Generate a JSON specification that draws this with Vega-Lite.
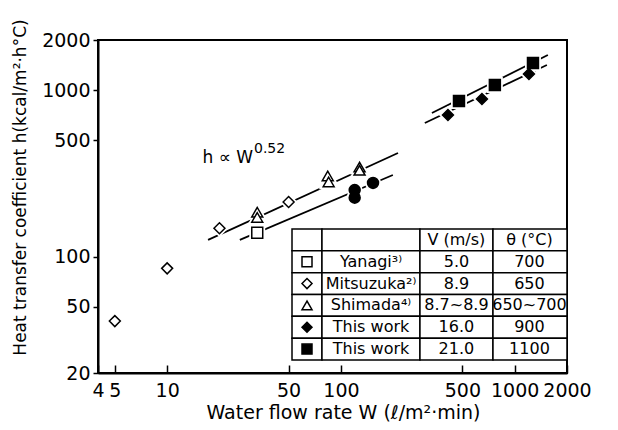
{
  "$schema": "https://vega.github.io/schema/vega-lite/v6.json",
  "width": 469,
  "height": 333,
  "autosize": {"type": "none"},
  "padding": {"left": 98, "top": 40, "right": 51, "bottom": 57},
  "background": "white",
  "config": {
    "view": {"stroke": "black", "strokeWidth": 2},
    "font": "DejaVu Sans",
    "axis": {
      "domainColor": "black", "domainWidth": 2, "tickColor": "black",
      "labelColor": "black", "titleColor": "black", "grid": false,
      "labelFont": "DejaVu Sans", "titleFont": "DejaVu Sans",
      "titleFontWeight": "normal", "labelFontWeight": "normal"
    }
  },
  "datasets": {
    "points": [
      {"series": "Mitsuzuka", "W": 5, "h": 41},
      {"series": "Mitsuzuka", "W": 10, "h": 85},
      {"series": "Mitsuzuka", "W": 20, "h": 148},
      {"series": "Mitsuzuka", "W": 50, "h": 213},
      {"series": "Yanagi", "W": 33, "h": 139},
      {"series": "Shimada", "W": 33, "h": 185},
      {"series": "Shimada", "W": 33, "h": 172},
      {"series": "Shimada", "W": 84, "h": 305},
      {"series": "Shimada", "W": 85, "h": 281},
      {"series": "Shimada", "W": 128, "h": 345},
      {"series": "Shimada", "W": 128, "h": 330},
      {"series": "This work (other)", "W": 120, "h": 251},
      {"series": "This work (other)", "W": 120, "h": 226},
      {"series": "This work (other)", "W": 153, "h": 277},
      {"series": "This work 16.0", "W": 413, "h": 709},
      {"series": "This work 16.0", "W": 648, "h": 884},
      {"series": "This work 16.0", "W": 1208, "h": 1250},
      {"series": "This work 21.0", "W": 478, "h": 861},
      {"series": "This work 21.0", "W": 769, "h": 1074},
      {"series": "This work 21.0", "W": 1274, "h": 1456}
    ],
    "fits": [
      {"fit": "A", "W": 17.2, "h": 126},
      {"fit": "A", "W": 213, "h": 419},
      {"fit": "B", "W": 26.2, "h": 126},
      {"fit": "B", "W": 199, "h": 309},
      {"fit": "C", "W": 334, "h": 729},
      {"fit": "C", "W": 1552, "h": 1626},
      {"fit": "D", "W": 304, "h": 635},
      {"fit": "D", "W": 1532, "h": 1416}
    ],
    "table": [
      {"row": "header", "series": "", "name": "", "V": "V (m/s)", "T": "θ (°C)"},
      {"row": "Yanagi", "series": "Yanagi", "name": "Yanagi³⁾", "V": "5.0", "T": "700"},
      {"row": "Mitsuzuka", "series": "Mitsuzuka", "name": "Mitsuzuka²⁾", "V": "8.9", "T": "650"},
      {"row": "Shimada", "series": "Shimada", "name": "Shimada⁴⁾", "V": "8.7~8.9", "T": "650~700"},
      {"row": "This work 16.0", "series": "This work 16.0", "name": "This work", "V": "16.0", "T": "900"},
      {"row": "This work 21.0", "series": "This work 21.0", "name": "This work", "V": "21.0", "T": "1100"}
    ]
  },
  "layer": [
    {
      "layer": [
        {
          "data": {"name": "fits"},
          "mark": {"type": "line", "color": "black", "strokeWidth": 1.8},
          "encoding": {
            "x": {"field": "W", "type": "quantitative", "scale": {"type": "log", "domain": [4, 2000]},
              "axis": {"title": "Water flow rate W (ℓ/m²·min)", "values": [4, 5, 10, 50, 100, 500, 1000, 2000], "format": "d",
                "labelFlush": false, "labelOverlap": false, "tickSize": -8, "tickWidth": 1.5, "labelFontSize": 19,
                "labelPadding": 16, "titleFontSize": 19, "titlePadding": 3, "titleX": 245}},
            "y": {"field": "h", "type": "quantitative", "scale": {"type": "log", "domain": [20, 2000]},
              "axis": {"title": "Heat transfer coefficient h(kcal/m²·h°C)", "values": [20, 50, 100, 500, 1000, 2000], "format": "d",
                "labelFlush": false, "labelOverlap": false, "tickSize": 5, "tickWidth": 1.5, "labelFontSize": 19,
                "labelPadding": 3, "titleFontSize": 17, "titlePadding": 12, "titleY": 147}},
            "detail": {"field": "fit", "type": "nominal"}
          }
        },
        {
          "data": {"name": "points"},
          "mark": {"type": "point", "filled": true, "fill": "white", "stroke": "white", "strokeWidth": 5, "size": 120, "opacity": 1},
          "encoding": {
            "x": {"field": "W", "type": "quantitative", "scale": {"type": "log", "domain": [4, 2000]}},
            "y": {"field": "h", "type": "quantitative", "scale": {"type": "log", "domain": [20, 2000]}},
            "shape": {"field": "series", "type": "nominal", "legend": null,
              "scale": {"domain": ["Yanagi", "Mitsuzuka", "Shimada", "This work 16.0", "This work 21.0", "This work (other)"],
                "range": ["square", "diamond", "triangle-up", "diamond", "square", "circle"]}}
          }
        },
        {
          "data": {"name": "points"},
          "mark": {"type": "point", "filled": true, "stroke": "black", "strokeWidth": 1.5, "size": 120, "opacity": 1},
          "encoding": {
            "x": {"field": "W", "type": "quantitative", "scale": {"type": "log", "domain": [4, 2000]}},
            "y": {"field": "h", "type": "quantitative", "scale": {"type": "log", "domain": [20, 2000]}},
            "shape": {"field": "series", "type": "nominal", "legend": null,
              "scale": {"domain": ["Yanagi", "Mitsuzuka", "Shimada", "This work 16.0", "This work 21.0", "This work (other)"],
                "range": ["square", "diamond", "triangle-up", "diamond", "square", "circle"]}},
            "fill": {"field": "series", "type": "nominal", "legend": null,
              "scale": {"domain": ["Yanagi", "Mitsuzuka", "Shimada", "This work 16.0", "This work 21.0", "This work (other)"],
                "range": ["white", "white", "white", "black", "black", "black"]}}
          }
        },
        {
          "data": {"values": [{"t": "h ∝ W"}]},
          "mark": {"type": "text", "align": "left", "baseline": "alphabetic", "fontSize": 17, "color": "black"},
          "encoding": {
            "text": {"field": "t"},
            "x": {"datum": 16, "type": "quantitative", "scale": {"type": "log", "domain": [4, 2000]}},
            "y": {"datum": 365, "type": "quantitative", "scale": {"type": "log", "domain": [20, 2000]}}
          }
        },
        {
          "data": {"values": [{"t": "0.52"}]},
          "mark": {"type": "text", "align": "left", "baseline": "alphabetic", "fontSize": 14, "color": "black"},
          "encoding": {
            "text": {"field": "t"},
            "x": {"datum": 31.6, "type": "quantitative", "scale": {"type": "log", "domain": [4, 2000]}},
            "y": {"datum": 418, "type": "quantitative", "scale": {"type": "log", "domain": [20, 2000]}}
          }
        }
      ]
    },
    {
      "data": {"name": "table"},
      "layer": [
        {
          "mark": {"type": "rect", "fill": "white", "stroke": "black", "strokeWidth": 1.5},
          "encoding": {
            "x": {"datum": 52.3, "type": "quantitative", "scale": {"type": "log", "domain": [4, 2000]}},
            "x2": {"datum": 77.8},
            "y": {"field": "row", "type": "nominal", "axis": null,
              "scale": {"type": "band", "domain": ["header", "Yanagi", "Mitsuzuka", "Shimada", "This work 16.0", "This work 21.0"], "range": [189, 320], "paddingInner": 0, "paddingOuter": 0}}
          }
        },
        {
          "mark": {"type": "rect", "fill": "white", "stroke": "black", "strokeWidth": 1.5},
          "encoding": {
            "x": {"datum": 77.8, "type": "quantitative", "scale": {"type": "log", "domain": [4, 2000]}},
            "x2": {"datum": 285},
            "y": {"field": "row", "type": "nominal", "axis": null}
          }
        },
        {
          "mark": {"type": "rect", "fill": "white", "stroke": "black", "strokeWidth": 1.5},
          "encoding": {
            "x": {"datum": 285, "type": "quantitative", "scale": {"type": "log", "domain": [4, 2000]}},
            "x2": {"datum": 750},
            "y": {"field": "row", "type": "nominal", "axis": null}
          }
        },
        {
          "mark": {"type": "rect", "fill": "white", "stroke": "black", "strokeWidth": 1.5},
          "encoding": {
            "x": {"datum": 750, "type": "quantitative", "scale": {"type": "log", "domain": [4, 2000]}},
            "x2": {"datum": 2000},
            "y": {"field": "row", "type": "nominal", "axis": null}
          }
        },
        {
          "transform": [{"filter": "datum.series != ''"}],
          "mark": {"type": "point", "filled": true, "stroke": "black", "strokeWidth": 1.5, "size": 100, "opacity": 1},
          "encoding": {
            "x": {"datum": 63.8, "type": "quantitative", "scale": {"type": "log", "domain": [4, 2000]}},
            "y": {"field": "row", "type": "nominal", "axis": null},
            "shape": {"field": "series", "type": "nominal", "legend": null},
            "fill": {"field": "series", "type": "nominal", "legend": null}
          }
        },
        {
          "mark": {"type": "text", "align": "center", "baseline": "middle", "fontSize": 16, "color": "black"},
          "encoding": {
            "text": {"field": "name"},
            "x": {"datum": 149, "type": "quantitative", "scale": {"type": "log", "domain": [4, 2000]}},
            "y": {"field": "row", "type": "nominal", "axis": null}
          }
        },
        {
          "mark": {"type": "text", "align": "center", "baseline": "middle", "fontSize": 16, "color": "black"},
          "encoding": {
            "text": {"field": "V"},
            "x": {"datum": 462, "type": "quantitative", "scale": {"type": "log", "domain": [4, 2000]}},
            "y": {"field": "row", "type": "nominal", "axis": null}
          }
        },
        {
          "mark": {"type": "text", "align": "center", "baseline": "middle", "fontSize": 16, "color": "black"},
          "encoding": {
            "text": {"field": "T"},
            "x": {"datum": 1216, "type": "quantitative", "scale": {"type": "log", "domain": [4, 2000]}},
            "y": {"field": "row", "type": "nominal", "axis": null}
          }
        }
      ]
    }
  ],
  "resolve": {"scale": {"y": "independent"}}
}
